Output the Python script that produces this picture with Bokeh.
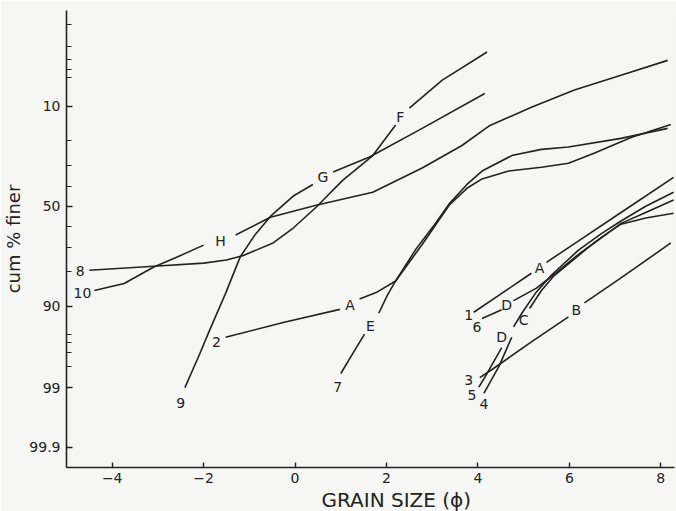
from statistics import NormalDist
from bokeh.plotting import figure
from bokeh.models import Range1d, FixedTicker, CustomJSTickFormatter, ColumnDataSource, Title
from bokeh.embed import file_html
from bokeh.resources import INLINE
from bokeh.core.properties import value

NAN = float("nan")

# ---- curves: grain size (phi) and cumulative % finer; NaN marks the gap where the curve's label sits
c8_phi = [-4.50, -3.09, -2.00, -1.50, -1.13, -0.48, -0.04, 0.46, 1.04, 1.70, 2.20, NAN, 2.50, 3.22, 4.20]
c8_pct = [79.4, 77.9, 76.7, 75.5, 73.6, 68.1, 61.0, 50.5, 37.0, 25.8, 14.9, NAN, 10.4, 5.3, 2.4]

c10_phi = [-4.39, -3.74, -3.09, -2.54, -2.00, NAN, -1.30, -0.54, 0.46, 1.70, 2.78, 3.65, 4.24, 5.17, 6.11, 7.13, 8.15]
c10_pct = [86.0, 83.9, 78.2, 73.9, 69.1, NAN, 64.4, 55.6, 49.5, 42.9, 31.2, 21.8, 15.2, 10.2, 6.8, 4.65, 3.07]

c9_phi = [-2.41, -2.11, -1.85, -1.52, -1.20, -0.87, -0.54, -0.04, 0.39, NAN, 0.83, 1.63, 2.78, 4.15]
c9_pct = [99.0, 97.3, 94.1, 86.8, 74.2, 64.1, 55.2, 44.8, 39.0, NAN, 33.0, 26.4, 15.9, 7.4]

c7_phi = [1.00, 1.30, 1.52, NAN, 1.83, 2.02, 2.20, 2.63, 3.07, 3.37, 3.76, 4.09, 4.74, 5.39, 5.98, 7.13, 8.15]
c7_pct = [98.4, 96.8, 94.95, NAN, 91.5, 87.3, 83.1, 71.3, 58.7, 48.8, 39.0, 32.6, 25.8, 23.3, 22.4, 19.2, 15.9]

c2_phi = [-1.52, -0.26, 0.98, NAN, 1.41, 1.80, 2.20, 2.78, 3.37, 3.76, 4.09, 4.67, 5.39, 5.98, 6.54, 7.35, 8.22]
c2_pct = [95.35, 93.2, 90.7, NAN, 88.3, 86.4, 83.1, 68.8, 49.5, 40.9, 36.3, 32.6, 30.85, 29.1, 24.8, 18.9, 14.7]

c1_phi = [3.91, 4.52, 5.17, NAN, 5.50, 6.26, 7.13, 8.28]
c1_pct = [91.3, 86.8, 80.5, NAN, 76.4, 66.3, 53.2, 35.6]

c6_phi = [4.09, 4.52, NAN, 4.78, 5.28, 5.65, 6.15, 6.70, 7.13, 7.67, 8.28]
c6_pct = [92.5, 90.8, NAN, 88.7, 85.3, 81.1, 73.9, 65.5, 59.1, 56.0, 53.6]

c5_phi = [4.02, 4.20, 4.52, NAN, 4.78, 4.96, 5.28, 5.61, 6.20, 6.70, 7.13, 7.67, 8.28]
c5_pct = [98.98, 98.4, 96.5, NAN, 93.9, 91.5, 86.4, 81.1, 71.3, 63.7, 57.5, 50.0, 42.9]

c4_phi = [4.13, 4.46, 4.74, NAN, 5.13, 5.39, 5.65, 6.41, 7.13, 7.67, 8.28]
c4_pct = [99.18, 98.0, 95.35, NAN, 90.5, 86.0, 81.6, 70.2, 58.7, 53.2, 46.8]

c3_phi = [4.04, 4.30, 5.17, 5.98, NAN, 6.33, 7.13, 8.22]
c3_pct = [98.6, 98.2, 95.9, 92.2, NAN, 89.25, 82.1, 68.1]

# ---- curve labels
lab_text = ["8", "10", "H", "G", "F", "9", "2", "A", "E", "7",
            "1", "6", "A", "D", "D", "C", "B", "3", "5", "4"]
lab_phi = [-4.70, -4.65, -1.63, 0.61, 2.30, -2.50, -1.72, 1.20, 1.65, 0.93,
           3.80, 3.98, 5.35, 4.63, 4.52, 5.00, 6.15, 3.80, 3.87, 4.13]
lab_pct = [79.7, 86.8, 67.0, 35.6, 12.7, 99.42, 95.9, 89.8, 93.7, 98.96,
           91.9, 93.9, 78.5, 89.8, 95.35, 92.8, 90.8, 98.7, 99.22, 99.43]

# ---- axes
x_ticks = [-4, -2, 0, 2, 4, 6, 8]
y_major_pct = [10, 50, 90, 99, 99.9]
y_major_lab = ["10", "50", "90", "99", "99.9"]
y_minor_pct = [1, 2, 3, 4, 5, 20, 30, 40, 60, 70, 80, 95, 96, 97, 98]

ND = NormalDist()


def probit(values):
    return [NAN if v != v else ND.inv_cdf(v / 100.0) for v in values]


BG = "#f6f6f4"
INK = "#222222"
FONT = "DejaVu Sans"

p = figure(width=676, height=511,
           x_range=Range1d(-5, 8.3), y_range=Range1d(3.35, -2.51),
           output_backend="svg", toolbar_location=None,
           min_border_left=62, min_border_right=2, min_border_top=10, min_border_bottom=44,
           background_fill_color=BG, border_fill_color=BG)
p.outline_line_color = None
p.grid.visible = False

curves = [(c8_phi, c8_pct), (c10_phi, c10_pct), (c9_phi, c9_pct), (c7_phi, c7_pct),
          (c2_phi, c2_pct), (c1_phi, c1_pct), (c6_phi, c6_pct), (c5_phi, c5_pct),
          (c4_phi, c4_pct), (c3_phi, c3_pct)]
for xs, ys in curves:
    p.line(xs, probit(ys), line_color=INK, line_width=1.6, line_join="round")

src = ColumnDataSource(dict(x=lab_phi, y=probit(lab_pct), t=lab_text))
p.text(x="x", y="y", text="t", source=src, text_font=value(FONT), text_font_size="14px",
       text_color=INK, text_align="center", text_baseline="middle")

# x axis
xa = p.xaxis[0]
xa.ticker = FixedTicker(ticks=x_ticks)
xa.major_tick_in = 5
xa.major_tick_out = 0
xa.minor_tick_in = 0
xa.minor_tick_out = 0
xa.major_label_standoff = 5
xa.axis_line_width = 1.6
xa.axis_line_color = INK
xa.major_tick_line_color = INK
xa.major_tick_line_width = 1.4
xa.major_label_text_font = FONT
xa.major_label_text_font_size = "14px"
xa.major_label_text_color = INK

# y axis (probability scale)
ya = p.yaxis[0]
ya.ticker = FixedTicker(ticks=probit(y_major_pct), minor_ticks=probit(y_minor_pct))
ya.formatter = CustomJSTickFormatter(args=dict(tv=probit(y_major_pct), tl=y_major_lab), code="""
    for (let i = 0; i < tv.length; i++) { if (Math.abs(tv[i] - tick) < 1e-6) return tl[i]; }
    return "";
""")
ya.major_tick_in = 6
ya.major_tick_out = 0
ya.minor_tick_in = 5
ya.minor_tick_out = 0
ya.major_label_standoff = 6
ya.axis_line_width = 1.6
ya.axis_line_color = INK
ya.major_tick_line_color = INK
ya.minor_tick_line_color = INK
ya.major_tick_line_width = 1.4
ya.minor_tick_line_width = 1.2
ya.major_label_text_font = FONT
ya.major_label_text_font_size = "14px"
ya.major_label_text_color = INK
ya.axis_label = "cum % finer"
ya.axis_label_standoff = 2
ya.axis_label_text_font = FONT
ya.axis_label_text_font_size = "18px"
ya.axis_label_text_font_style = "normal"
ya.axis_label_text_color = INK

# x axis title, placed right of centre as in the original
p.add_layout(Title(text="GRAIN SIZE (ϕ)", align="left", offset=255, standoff=0,
                   text_font=FONT, text_font_size="20px", text_font_style="normal",
                   text_color=INK), "below")

open("out.html", "w").write(file_html(p, INLINE))
